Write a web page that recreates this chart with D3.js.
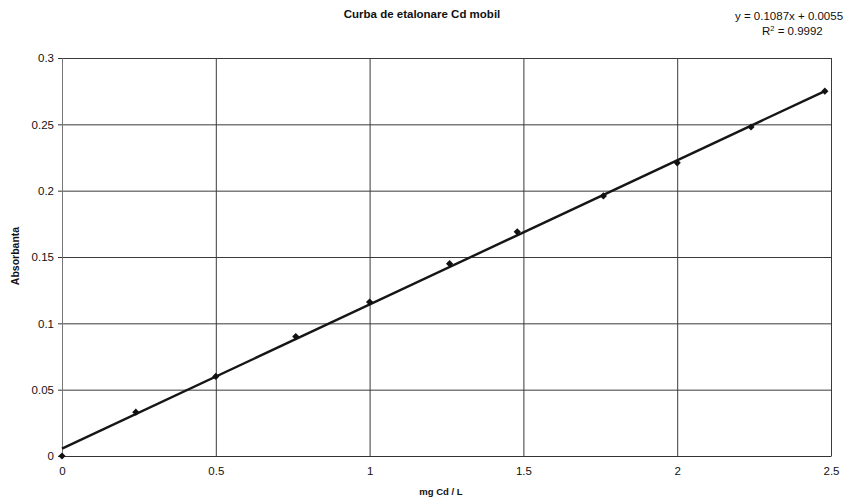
<!DOCTYPE html>
<html>
<head>
<meta charset="utf-8">
<script src="https://cdnjs.cloudflare.com/ajax/libs/d3/7.8.5/d3.min.js"></script>
<style>
  body { margin: 0; background: #fff; }
  svg text { font-family: "Liberation Sans", Arial, sans-serif; fill: #111; }
</style>
</head>
<body>
<div id="chart"></div>
<script>
// calibration points
var conc = [0, 0.24, 0.5, 0.76, 1, 1.26, 1.48, 1.76, 2, 2.24, 2.48];
var absorb = [0, 0.033, 0.06, 0.09, 0.116, 0.145, 0.169, 0.196, 0.221, 0.248, 0.275];
var xTicks = [0, 0.5, 1, 1.5, 2, 2.5];
var yTicks = [0, 0.05, 0.1, 0.15, 0.2, 0.25, 0.3];
var slope = 0.1087, intercept = 0.0055;

var width = 847, height = 501;
var svg = d3.select("#chart").append("svg")
    .attr("width", width)
    .attr("height", height);

var x = d3.scaleLinear().domain([0, 2.5]).range([62, 831]);
var y = d3.scaleLinear().domain([0, 0.3]).range([456, 58]);

// grid lines, vertical and horizontal
svg.append("g")
    .attr("transform", "translate(0,456)")
    .call(d3.axisBottom(x).tickValues(xTicks).tickSize(-(456 - 58)).tickFormat(""))
    .call(g => g.select(".domain").remove())
    .selectAll("line").attr("stroke", "#3a3a3a").attr("stroke-width", 1);

svg.append("g")
    .attr("transform", "translate(62,0)")
    .call(d3.axisLeft(y).tickValues(yTicks).tickSize(-(831 - 62)).tickFormat(""))
    .call(g => g.select(".domain").remove())
    .selectAll("line").attr("stroke", "#3a3a3a").attr("stroke-width", 1);

// axis labels with small outer ticks
var yAxis = svg.append("g")
    .attr("transform", "translate(62,0)")
    .call(d3.axisLeft(y).tickValues(yTicks).tickSize(4).tickPadding(4)
        .tickFormat(d => d3.format("")(+d.toFixed(2))));
yAxis.select(".domain").attr("stroke", "#777");
yAxis.selectAll("line").attr("stroke", "#333");
yAxis.selectAll("text").style("font-size", "11.5px").attr("fill", "#111");

var xAxis = svg.append("g")
    .attr("transform", "translate(0,456)")
    .call(d3.axisBottom(x).tickValues(xTicks).tickSize(0).tickPadding(11)
        .tickFormat(d => d3.format("")(+d.toFixed(1))));
xAxis.select(".domain").attr("stroke", "#333");
xAxis.selectAll("text").style("font-size", "11.5px").attr("fill", "#111");

// trend line
var line = d3.line().x(d => x(d)).y(d => y(slope * d + intercept));
svg.append("path")
    .datum([0, d3.max(conc)])
    .attr("d", line)
    .attr("fill", "none")
    .attr("stroke", "#161616")
    .attr("stroke-width", 2.4);

// diamond markers (square turned 45 degrees)
svg.selectAll(".pt")
    .data(conc.map((c, i) => [c, absorb[i]]))
    .enter().append("path")
    .attr("class", "pt")
    .attr("d", d3.symbol().type(d3.symbolSquare).size(26))
    .attr("transform", d => "translate(" + x(d[0]) + "," + y(d[1]) + ") rotate(45)")
    .attr("fill", "#111");

// titles
svg.append("text")
    .attr("x", 422).attr("y", 18)
    .attr("text-anchor", "middle")
    .style("font-size", "11.5px").style("font-weight", "bold")
    .text("Curba de etalonare Cd mobil");

svg.append("text")
    .attr("transform", "translate(19,256) rotate(-90)")
    .attr("text-anchor", "middle")
    .style("font-size", "10.5px").style("font-weight", "bold")
    .text("Absorbanta");

svg.append("text")
    .attr("x", 441).attr("y", 495)
    .attr("text-anchor", "middle")
    .style("font-size", "9.5px").style("font-weight", "bold")
    .text("mg Cd / L");

// regression equation
svg.append("text")
    .attr("x", 735).attr("y", 20)
    .style("font-size", "11.5px")
    .text("y = " + slope + "x + " + intercept);

var r2 = svg.append("text")
    .attr("x", 762).attr("y", 35)
    .style("font-size", "11.5px");
r2.append("tspan").text("R");
r2.append("tspan").attr("dy", -4).style("font-size", "7.5px").text("2");
r2.append("tspan").attr("dy", 4).text(" = 0.9992");
</script>
</body>
</html>
